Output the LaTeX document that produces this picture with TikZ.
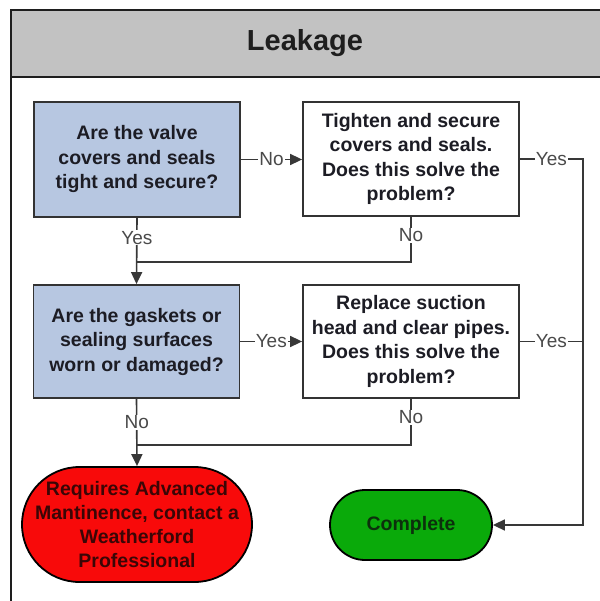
\documentclass[tikz,border=0pt]{standalone}
\usepackage{fontspec}
\setmainfont{Liberation Sans}
\usetikzlibrary{arrows.meta,shapes.misc}

\definecolor{titlegray}{HTML}{C2C2C2}
\definecolor{frameline}{HTML}{1E1E1E}
\definecolor{boxline}{HTML}{333333}
\definecolor{qblue}{HTML}{B7C7E1}
\definecolor{qtext}{HTML}{1C1C24}
\definecolor{connline}{HTML}{383838}
\definecolor{labtext}{HTML}{4A4A4A}
\definecolor{failred}{HTML}{F80A0A}
\definecolor{failtext}{HTML}{3A0606}
\definecolor{donegreen}{HTML}{0AAA0A}
\definecolor{donetext}{HTML}{0C300C}

\tikzset{
  frame/.style={draw=frameline, line width=2.4pt},
  boxbase/.style={draw=boxline, line width=1.8pt, align=center, inner sep=0pt,
    font=\bfseries\fontsize{19.5}{24.5}\selectfont, text=qtext},
  question/.style={boxbase, fill=qblue, minimum width=206pt, minimum height=115pt},
  action/.style={boxbase, fill=white, minimum width=216pt, minimum height=114pt},
  terminal/.style={rounded rectangle, draw=black, line width=1.8pt, inner sep=0pt},
  conn/.style={draw=connline, line width=1.6pt},
  arr/.style={-{Triangle[length=12pt,width=11pt]}},
  lab/.style={fill=white, inner xsep=1pt, inner ysep=1pt, text=labtext,
    font=\fontsize{19}{19}\selectfont},
}

\begin{document}
\begin{tikzpicture}[x=1pt,y=-1pt]
\useasboundingbox (0,0) rectangle (599,601);

% panel frame with title band
\fill[titlegray] (11,10) rectangle (606,77);
\draw[frame] (11,606) -- (11,10) -- (606,10);
\draw[frame] (11,77) -- (606,77);
\node[font=\bfseries\fontsize{29}{29}\selectfont, text=frameline] (title) at (305,43) {Leakage};

% decision and action boxes
\node[question] (b1) at (137,159.5) {Are the valve\\covers and seals\\tight and secure?};
\node[action]   (b2) at (411,159)   {Tighten and secure\\covers and seals.\\Does this solve the\\problem?};
\node[question, minimum height=113pt] (b3) at (136.5,341.5) {Are the gaskets or\\sealing surfaces\\worn or damaged?};
\node[action, minimum height=113pt]   (b4) at (411,341.5)   {Replace suction\\head and clear pipes.\\Does this solve the\\problem?};

% end states
\node[terminal, fill=failred, minimum width=230pt, minimum height=115pt] (fail) at (137,524.5) {};
\node[align=center, inner sep=0pt, text=failtext,
      font=\bfseries\fontsize{19.5}{24}\selectfont] (failmsg) at (fail.center)
      {Requires Advanced\\Mantinence, contact a\\Weatherford\\Professional};
\node[terminal, fill=donegreen, minimum width=162pt, minimum height=70pt, text=donetext,
      font=\bfseries\fontsize{19.5}{24}\selectfont] (done) at (411,525) {Complete};

% junction points and the right-hand return rail
\coordinate (rail) at (583,0);
\coordinate (j1) at (137,262);
\coordinate (j2) at (137,445);

% connectors
\draw[conn,arr] (b1.east) -- node[lab]{No} (b2.west |- b1.east);
\draw[conn,arr] (b1.south) -- node[lab,pos=0.3]{Yes} (b3.north);
\draw[conn] (b2.south) -- node[lab,pos=0.41]{No} (b2.south |- j1) -- (j1);
\draw[conn,arr] (b2.east) -- node[lab]{Yes} (rail |- b2.east) -- (rail |- done.east) -- (done.east);

\draw[conn,arr] (b3.east) -- node[lab]{Yes} (b4.west |- b3.east);
\draw[conn] (b4.east) -- node[lab]{Yes} (rail |- b4.east);
\draw[conn,arr] (b3.south) -- node[lab,pos=0.35]{No} (fail.north);
\draw[conn] (b4.south) -- node[lab,pos=0.4]{No} (b4.south |- j2) -- (j2);
\end{tikzpicture}
\end{document}
